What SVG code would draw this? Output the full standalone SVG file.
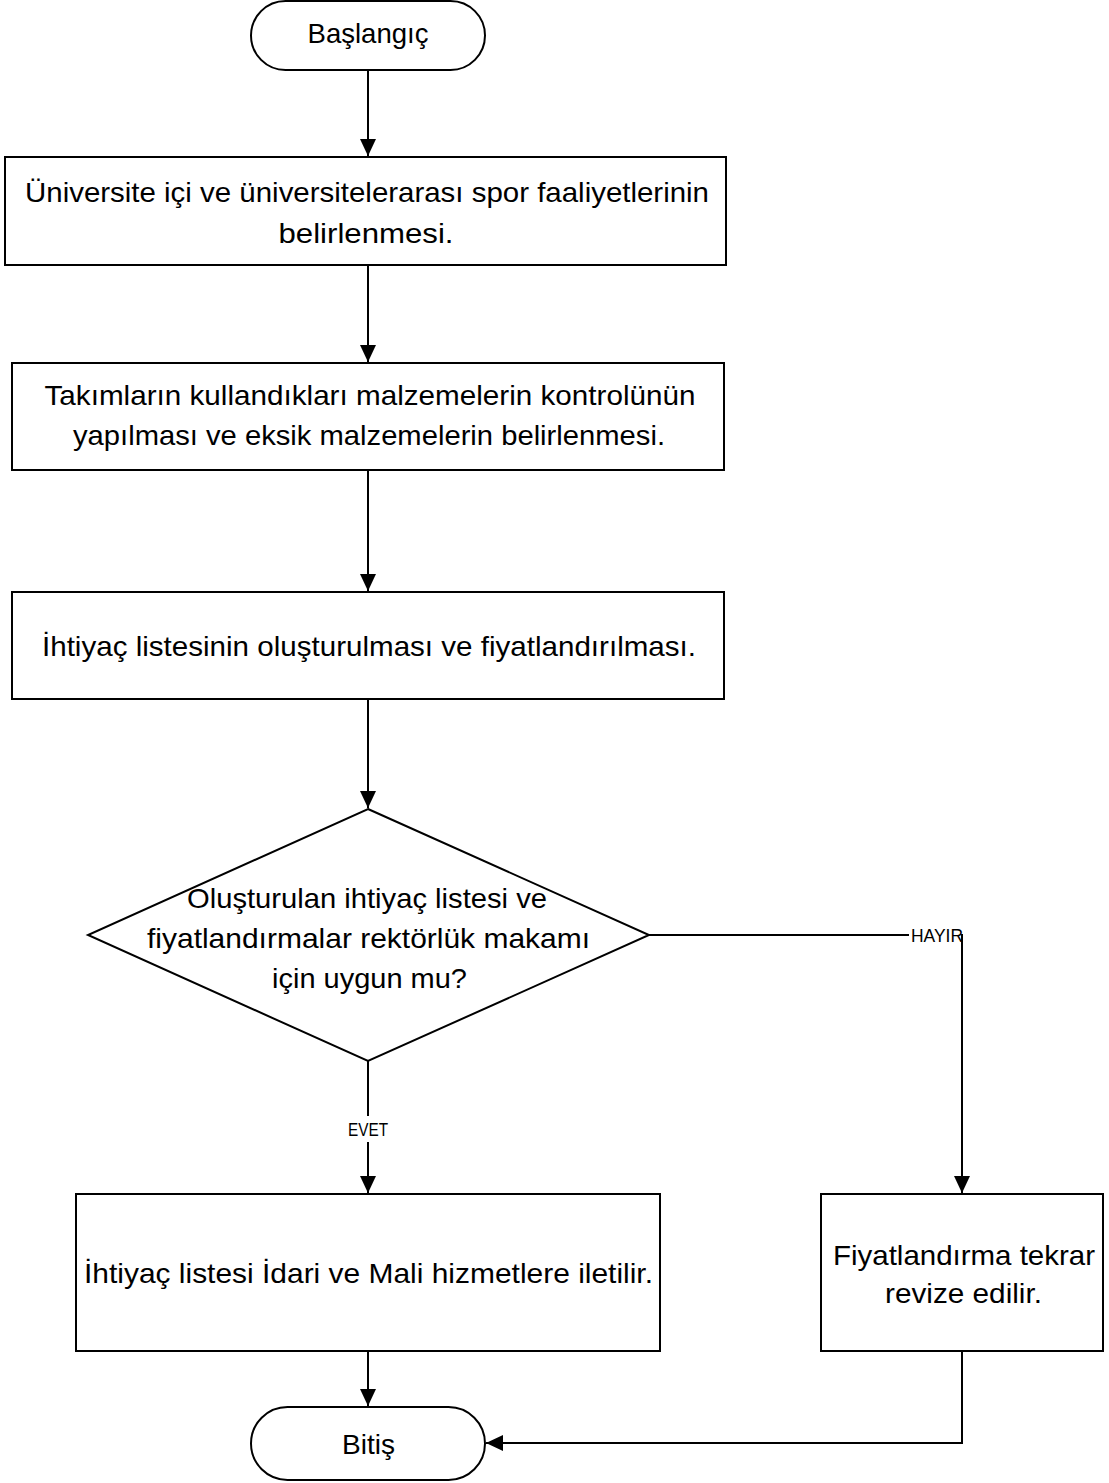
<svg xmlns="http://www.w3.org/2000/svg" width="1109" height="1483" viewBox="0 0 1109 1483">
<style>
.shape{fill:#fff;stroke:#000;stroke-width:2}
.t{font-family:"Liberation Sans",Arial,sans-serif;font-size:28px;fill:#000;text-anchor:middle}
.s{font-family:"Liberation Sans",Arial,sans-serif;font-size:18px;fill:#000;text-anchor:middle}
.c{fill:none;stroke:#000;stroke-width:2}
</style>
<defs>
<marker id="arr" markerUnits="userSpaceOnUse" markerWidth="18" markerHeight="17" refX="17" refY="8" orient="auto">
<path d="M0,0 L17,8 L0,16 z" fill="#000"/>
</marker>
</defs>
<rect width="1109" height="1483" fill="#fff"/>
<g id="connectors">
<line class="c" x1="368" y1="70" x2="368" y2="156" marker-end="url(#arr)"/>
<line class="c" x1="368" y1="265" x2="368" y2="362" marker-end="url(#arr)"/>
<line class="c" x1="368" y1="470" x2="368" y2="591" marker-end="url(#arr)"/>
<line class="c" x1="368" y1="699" x2="368" y2="808" marker-end="url(#arr)"/>
<line class="c" x1="368" y1="1061" x2="368" y2="1193" marker-end="url(#arr)"/>
<polyline class="c" points="649,935 962,935 962,1193" marker-end="url(#arr)"/>
<line class="c" x1="368" y1="1351" x2="368" y2="1406" marker-end="url(#arr)"/>
<polyline class="c" points="962,1351 962,1443 486,1443" marker-end="url(#arr)"/>
<rect x="909" y="926" width="52" height="18" fill="#fff"/>
<text class="s" x="937" y="942" textLength="52" lengthAdjust="spacingAndGlyphs">HAYIR</text>
<rect x="346" y="1116" width="44" height="26" fill="#fff"/>
<text class="s" x="368" y="1136" textLength="40" lengthAdjust="spacingAndGlyphs">EVET</text>
</g>
<g id="start">
<rect class="shape" x="251" y="1" width="234" height="69" rx="34.5" ry="34.5"/>
<text class="t" x="368" y="43" textLength="121" lengthAdjust="spacingAndGlyphs">Başlangıç</text>
</g>
<g id="step1">
<rect class="shape" x="5" y="157" width="721" height="108"/>
<text class="t" x="367" y="202" textLength="684" lengthAdjust="spacingAndGlyphs">Üniversite içi ve üniversitelerarası spor faaliyetlerinin</text>
<text class="t" x="366" y="243" textLength="175" lengthAdjust="spacingAndGlyphs">belirlenmesi.</text>
</g>
<g id="step2">
<rect class="shape" x="12" y="363" width="712" height="107"/>
<text class="t" x="370" y="405" textLength="651" lengthAdjust="spacingAndGlyphs">Takımların kullandıkları malzemelerin kontrolünün</text>
<text class="t" x="369" y="445" textLength="592" lengthAdjust="spacingAndGlyphs">yapılması ve eksik malzemelerin belirlenmesi.</text>
</g>
<g id="step3">
<rect class="shape" x="12" y="592" width="712" height="107"/>
<text class="t" x="369" y="656" textLength="654" lengthAdjust="spacingAndGlyphs">İhtiyaç listesinin oluşturulması ve fiyatlandırılması.</text>
</g>
<g id="decision">
<polygon class="shape" points="368,809 649,935 368,1061 88,935"/>
<text class="t" x="367" y="908" textLength="360" lengthAdjust="spacingAndGlyphs">Oluşturulan ihtiyaç listesi ve</text>
<text class="t" x="368.5" y="948" textLength="443" lengthAdjust="spacingAndGlyphs">fiyatlandırmalar rektörlük makamı</text>
<text class="t" x="369.5" y="988" textLength="195" lengthAdjust="spacingAndGlyphs">için uygun mu?</text>
</g>
<g id="step4">
<rect class="shape" x="76" y="1194" width="584" height="157"/>
<text class="t" x="368.5" y="1283" textLength="569" lengthAdjust="spacingAndGlyphs">İhtiyaç listesi İdari ve Mali hizmetlere iletilir.</text>
</g>
<g id="revise">
<rect class="shape" x="821" y="1194" width="282" height="157"/>
<text class="t" x="964" y="1265" textLength="262" lengthAdjust="spacingAndGlyphs">Fiyatlandırma tekrar</text>
<text class="t" x="963.5" y="1303" textLength="157" lengthAdjust="spacingAndGlyphs">revize edilir.</text>
</g>
<g id="end">
<rect class="shape" x="251" y="1407" width="234" height="73" rx="36.5" ry="36.5"/>
<text class="t" x="368.5" y="1454" textLength="53" lengthAdjust="spacingAndGlyphs">Bitiş</text>
</g>
</svg>
